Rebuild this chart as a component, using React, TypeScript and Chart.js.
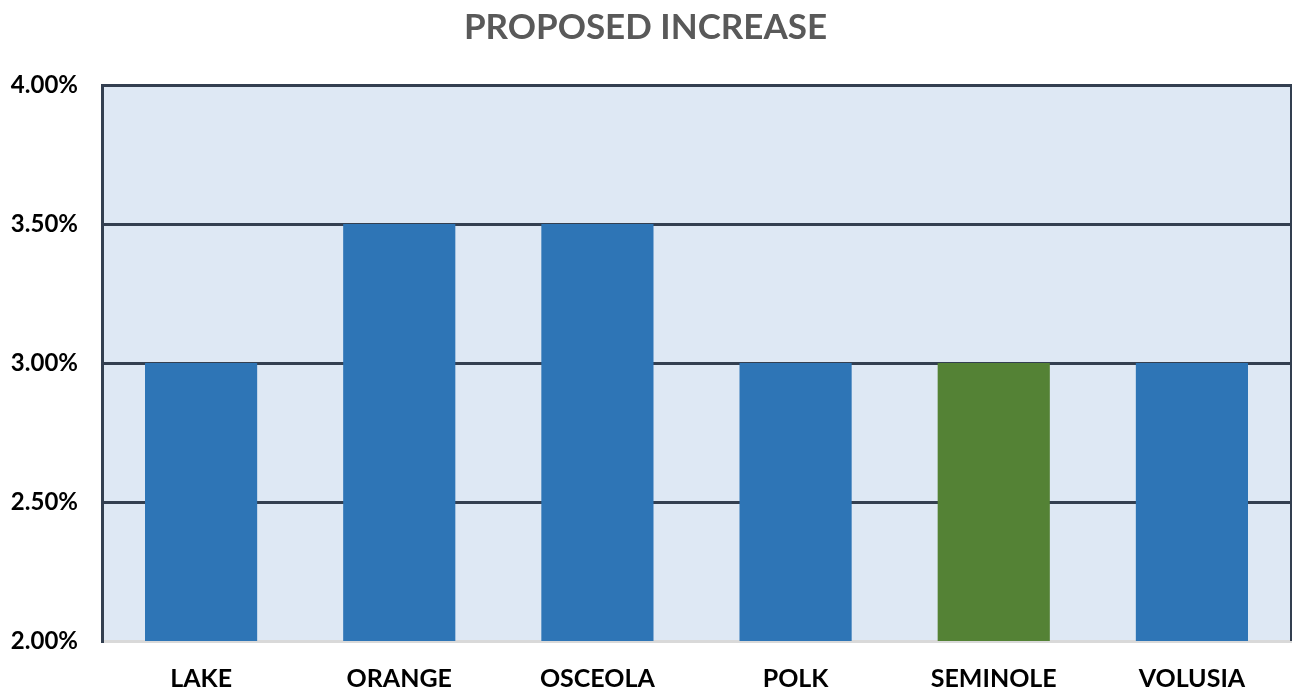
import React, { useEffect, useRef } from "react";
import { Chart, registerables } from "chart.js";

Chart.register(...registerables);

const categories = ["LAKE", "ORANGE", "OSCEOLA", "POLK", "SEMINOLE", "VOLUSIA"];
const increases = [3.0, 3.5, 3.5, 3.0, 3.0, 3.0];
const barColors = ["#2E75B6", "#2E75B6", "#2E75B6", "#2E75B6", "#548235", "#2E75B6"];
const yMin = 2.0;
const yMax = 4.0;
const yStep = 0.5;

const FONT = "Lato, 'Open Sans', sans-serif";

const plotBg = {
  id: "plotBg",
  beforeDraw(chart: any) {
    const { ctx, chartArea } = chart;
    ctx.save();
    ctx.fillStyle = "#DEE8F4";
    ctx.fillRect(chartArea.left, chartArea.top, chartArea.right - chartArea.left, chartArea.bottom - chartArea.top);
    ctx.restore();
  },
  afterDatasetsDraw(chart: any) {
    const { ctx, chartArea } = chart;
    ctx.save();
    ctx.strokeStyle = "#333F50";
    ctx.lineWidth = 2;
    ctx.beginPath();
    ctx.moveTo(chartArea.right, chartArea.top - 1);
    ctx.lineTo(chartArea.right, chartArea.bottom);
    ctx.stroke();
    ctx.restore();
  },
};

export default function App() {
  const ref = useRef<HTMLCanvasElement | null>(null);
  useEffect(() => {
    if (!ref.current) return;
    const chart = new Chart(ref.current, {
      type: "bar",
      data: {
        labels: categories,
        datasets: [
          {
            data: increases,
            backgroundColor: barColors,
            borderWidth: 0,
            barPercentage: 0.566,
            categoryPercentage: 1,
          },
        ],
      },
      options: {
        animation: false,
        responsive: true,
        maintainAspectRatio: false,
        layout: { padding: { left: 0, right: 2, top: 0, bottom: 0 } },
        plugins: {
          legend: { display: false },
          tooltip: { enabled: false },
          title: {
            display: true,
            text: "PROPOSED INCREASE",
            color: "#595959",
            font: { family: FONT, size: 35, weight: "bold" },
            padding: { top: 7, bottom: 36 },
          },
        },
        scales: {
          x: {
            grid: { display: false, drawTicks: false },
            border: { display: true, color: "#D9D9D9", width: 3 },
            ticks: {
              color: "#000000",
              font: { family: FONT, size: 25, weight: "bold" },
              padding: 23,
              maxRotation: 0,
            },
            afterFit(scale: any) {
              scale.height = 53;
            },
          },
          y: {
            min: yMin,
            max: yMax,
            grid: { color: "#333F50", lineWidth: 3, drawTicks: false },
            border: { display: true, color: "#333F50", width: 3 },
            ticks: {
              stepSize: yStep,
              color: "#000000",
              font: { family: FONT, size: 24, weight: "bold" },
              padding: 24,
              callback: (v: any) => Number(v).toFixed(2) + "%",
            },
            afterFit(scale: any) {
              scale.width = 102;
            },
          },
        },
      },
      plugins: [plotBg],
    });
    return () => chart.destroy();
  }, []);
  return (
    <div style={{ position: "absolute", left: 0, top: 0, width: 1293, height: 694, background: "#fff" }}>
      <canvas ref={ref} />
    </div>
  );
}
